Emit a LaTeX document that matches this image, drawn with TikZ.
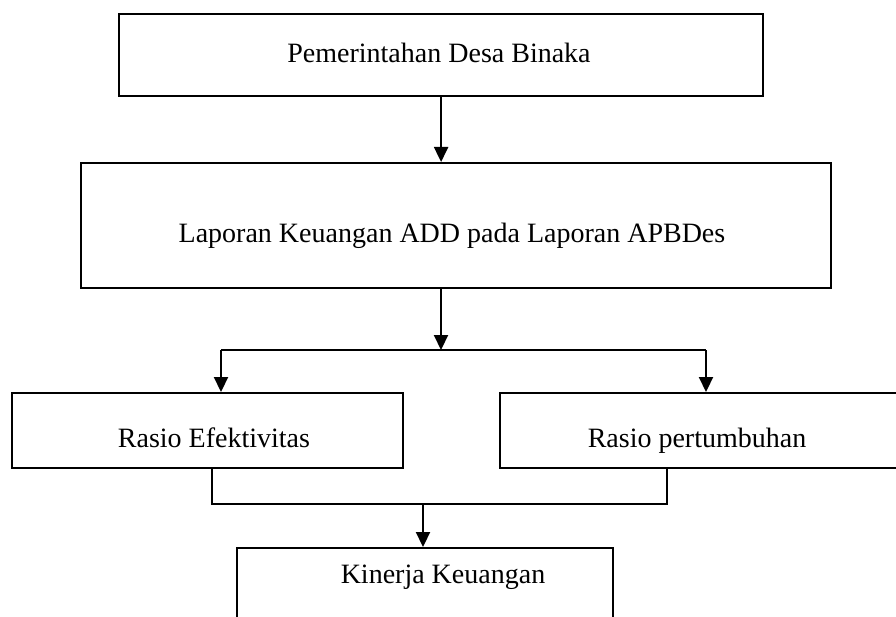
\documentclass[tikz,border=0pt]{standalone}
\usepackage{fontspec}
\setmainfont{Liberation Serif}
\usetikzlibrary{arrows.meta}
\begin{document}
\begin{tikzpicture}[x=1pt,y=-1pt,
 box/.style={draw,line width=2.2pt,rectangle,inner sep=0pt,anchor=north west},
 lbl/.style={anchor=base,inner sep=0pt,font=\fontsize{28}{30}\selectfont},
 conn/.style={line width=2.2pt},
 arr/.style={conn,-{Triangle[width=14pt,length=15pt]}}]
\useasboundingbox (0,0) rectangle (896,617);
\begin{scope}
\clip (0,0) rectangle (896,617);
\node[box,minimum width=644pt,minimum height=82pt] (b1) at (118,13) {};
\node[box,minimum width=750pt,minimum height=125pt] (b2) at (80,162) {};
\node[box,minimum width=391pt,minimum height=75pt] (b3) at (11,392) {};
\node[box,minimum width=421pt,minimum height=75pt] (b4) at (499,392) {};
\node[box,minimum width=376pt,minimum height=103pt] (b5) at (236,547) {};
\node[lbl] (t1) at (439,63) {Pemerintahan Desa Binaka};
\node[lbl] (t2) at (452,243) {Laporan Keuangan ADD pada Laporan APBDes};
\node[lbl] (t3) at (214,447) {Rasio Efektivitas};
\node[lbl] (t4) at (697,447) {Rasio pertumbuhan};
\node[lbl] (t5) at (443,583) {Kinerja Keuangan};
\coordinate (split) at (441,350);
\coordinate (sl) at (221,350);
\coordinate (sr) at (706,350);
\coordinate (jn) at (423,504);
\coordinate (jl) at (212,504);
\coordinate (jr) at (667,504);
\draw[arr] (b1.south) -- (b1.south |- b2.north);
\draw[arr] (b2.south -| split) -- (split);
\draw[conn] (sl) -- (sr);
\draw[arr] (sl) -- (sl |- b3.north);
\draw[arr] (sr) -- (sr |- b4.north);
\draw[conn] (jl |- b3.south) -- (jl) -- (jr) -- (jr |- b4.south);
\draw[arr] (jn) -- (jn |- b5.north);
\end{scope}
\end{tikzpicture}
\end{document}
